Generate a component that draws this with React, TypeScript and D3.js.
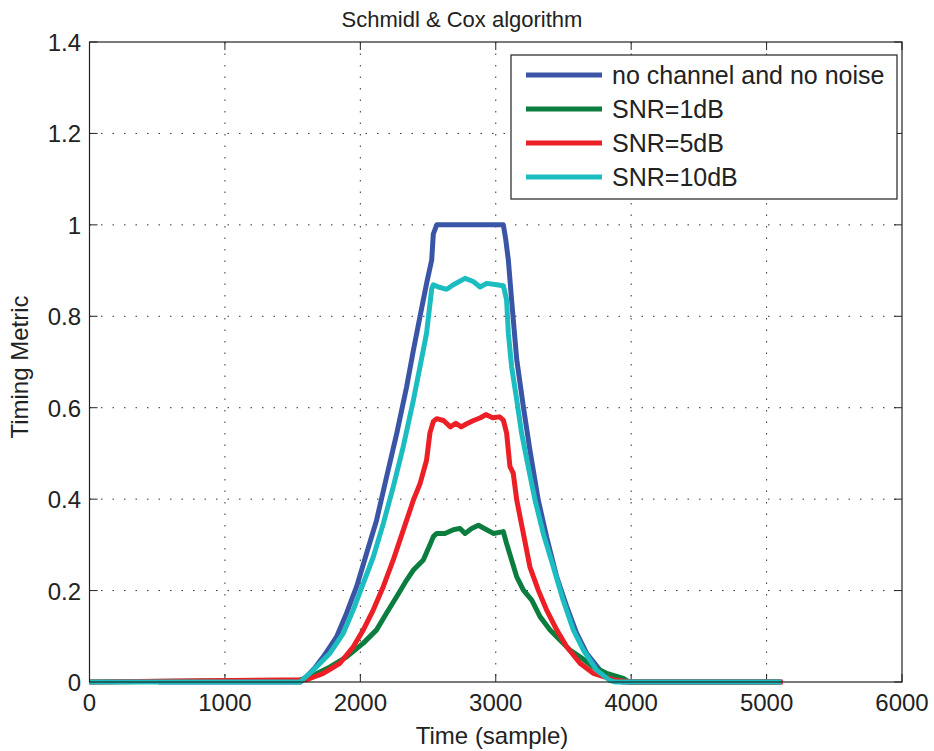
import React from "react";
import * as d3 from "d3";

const xTicks = [0, 1000, 2000, 3000, 4000, 5000, 6000];
const yTicks = [0, 0.2, 0.4, 0.6, 0.8, 1, 1.2, 1.4];

const seriesNames = ["no channel and no noise", "SNR=1dB", "SNR=5dB", "SNR=10dB"];
const seriesColors = ["#3a55a6", "#0b7d3e", "#ec1f27", "#1cbdc0"];

const noNoise: [number, number][] = [
  [508, 0], [1556, 0], [1604, 0.012], [1667, 0.032], [1726, 0.055], [1778, 0.078], [1825, 0.099],
  [1899, 0.151], [1973, 0.209], [2047, 0.282], [2120, 0.354], [2194, 0.449], [2269, 0.544],
  [2342, 0.646], [2392, 0.726], [2441, 0.8], [2490, 0.873], [2527, 0.923], [2539, 0.98],
  [2564, 1.0], [3056, 1.0], [3073, 0.97], [3093, 0.923], [3117, 0.836], [3155, 0.705],
  [3204, 0.602], [3252, 0.508], [3314, 0.398], [3375, 0.318], [3450, 0.23], [3524, 0.165],
  [3597, 0.107], [3671, 0.063], [3769, 0.026], [3893, 0.004], [3935, 0], [5110, 0],
];

const snr1: [number, number][] = [
  [0, 0], [1554, 0.004], [1653, 0.015], [1776, 0.033], [1899, 0.055], [2022, 0.085], [2120, 0.114],
  [2194, 0.151], [2269, 0.187], [2342, 0.223], [2392, 0.245], [2465, 0.267], [2514, 0.3],
  [2539, 0.318], [2564, 0.325], [2624, 0.325], [2687, 0.333], [2736, 0.336], [2773, 0.325],
  [2822, 0.336], [2872, 0.343], [2933, 0.333], [2982, 0.325], [3056, 0.329], [3080, 0.303],
  [3117, 0.267], [3155, 0.23], [3204, 0.201], [3266, 0.179], [3327, 0.143], [3401, 0.114],
  [3474, 0.092], [3548, 0.07], [3622, 0.055], [3720, 0.033], [3819, 0.019], [3942, 0.008],
  [3985, 0], [5100, 0],
];

const snr5: [number, number][] = [
  [0, 0], [1603, 0.005], [1726, 0.019], [1849, 0.041], [1948, 0.077], [2022, 0.114], [2096, 0.158],
  [2170, 0.209], [2243, 0.267], [2293, 0.311], [2342, 0.354], [2392, 0.398], [2441, 0.434],
  [2489, 0.485], [2514, 0.545], [2539, 0.57], [2564, 0.576], [2614, 0.572], [2665, 0.558],
  [2705, 0.566], [2745, 0.558], [2786, 0.565], [2836, 0.572], [2887, 0.578], [2927, 0.585],
  [2977, 0.578], [3028, 0.58], [3056, 0.573], [3080, 0.545], [3105, 0.471], [3129, 0.457],
  [3155, 0.398], [3204, 0.325], [3252, 0.252], [3314, 0.201], [3375, 0.158], [3450, 0.114],
  [3524, 0.077], [3622, 0.041], [3720, 0.019], [3868, 0.005], [3985, 0], [5120, 0],
];

const snr10: [number, number][] = [
  [0, 0], [1554, 0], [1653, 0.026], [1776, 0.063], [1875, 0.107], [1948, 0.158], [2022, 0.216],
  [2096, 0.274], [2170, 0.347], [2243, 0.427], [2317, 0.515], [2392, 0.617], [2441, 0.69],
  [2489, 0.763], [2527, 0.86], [2539, 0.869], [2576, 0.864], [2638, 0.859], [2687, 0.869],
  [2773, 0.883], [2834, 0.876], [2884, 0.864], [2933, 0.872], [3007, 0.869], [3056, 0.867],
  [3080, 0.836], [3093, 0.763], [3117, 0.69], [3155, 0.617], [3191, 0.544], [3240, 0.471],
  [3290, 0.398], [3351, 0.325], [3425, 0.252], [3498, 0.179], [3573, 0.114], [3647, 0.07],
  [3745, 0.026], [3844, 0.003], [3885, 0], [5110, 0],
];

const allSeries = [noNoise, snr1, snr5, snr10];

const W = 934;
const H = 751;
const left = 89.5;
const right = 902;
const top = 42;
const bottom = 682;
const FONT = "'Liberation Sans', Arial, Helvetica, sans-serif";

export default function App() {
  const x = d3.scaleLinear().domain([0, 6000]).range([left, right]);
  const y = d3.scaleLinear().domain([0, 1.4]).range([bottom, top]);
  const line = d3
    .line<[number, number]>()
    .x((d) => x(d[0]))
    .y((d) => y(d[1]));
  const tickLen = 8;
  const legX = 511;
  const legY = 55;
  const legW = 386;
  const legH = 144;
  const rowGap = 34;

  return (
    <svg
      width={W}
      height={H}
      style={{ position: "absolute", left: 0, top: 0, background: "#fff" }}
      fontFamily={FONT}
    >
      <rect x={0} y={0} width={W} height={H} fill="#fff" />
      {xTicks.slice(1, -1).map((t) => (
        <line
          key={"gx" + t}
          x1={x(t)}
          x2={x(t)}
          y1={top}
          y2={bottom}
          stroke="#333"
          strokeWidth={1}
          strokeDasharray="1.5,10"
        />
      ))}
      {yTicks.slice(1, -1).map((t) => (
        <line
          key={"gy" + t}
          x1={left}
          x2={right}
          y1={y(t)}
          y2={y(t)}
          stroke="#333"
          strokeWidth={1}
          strokeDasharray="1.5,10"
        />
      ))}
      {xTicks.map((t) => (
        <g key={"tx" + t}>
          <line x1={x(t)} x2={x(t)} y1={bottom} y2={bottom - tickLen} stroke="#222" />
          <line x1={x(t)} x2={x(t)} y1={top} y2={top + tickLen} stroke="#222" />
          <text x={x(t)} y={711} fontSize={24} textAnchor="middle" fill="#222">
            {t}
          </text>
        </g>
      ))}
      {yTicks.map((t) => (
        <g key={"ty" + t}>
          <line x1={left} x2={left + tickLen} y1={y(t)} y2={y(t)} stroke="#222" />
          <line x1={right} x2={right - tickLen} y1={y(t)} y2={y(t)} stroke="#222" />
          <text x={81} y={y(t) + 9} fontSize={24} textAnchor="end" fill="#222">
            {String(t)}
          </text>
        </g>
      ))}
      {allSeries.map((s, i) => (
        <path
          key={"s" + i}
          d={line(s) || ""}
          fill="none"
          stroke={seriesColors[i]}
          strokeWidth={5}
          strokeLinejoin="round"
          strokeLinecap="butt"
        />
      ))}
      <rect
        x={left}
        y={top}
        width={right - left}
        height={bottom - top}
        fill="none"
        stroke="#222"
        strokeWidth={1.2}
      />
      <rect x={legX} y={legY} width={legW} height={legH} fill="#fff" stroke="#222" strokeWidth={1.2} />
      {seriesNames.map((n, i) => (
        <g key={"l" + i}>
          <line
            x1={526}
            x2={602}
            y1={legY + 20 + i * rowGap}
            y2={legY + 20 + i * rowGap}
            stroke={seriesColors[i]}
            strokeWidth={5}
          />
          <text x={612} y={legY + 20 + i * rowGap + 9} fontSize={25} fill="#222">
            {n}
          </text>
        </g>
      ))}
      <text x={462} y={27} fontSize={22} textAnchor="middle" fill="#222">
        Schmidl &amp; Cox algorithm
      </text>
      <text x={492} y={744} fontSize={24} textAnchor="middle" fill="#222">
        Time (sample)
      </text>
      <text
        transform={`translate(28, 367) rotate(-90)`}
        fontSize={24}
        textAnchor="middle"
        fill="#222"
      >
        Timing Metric
      </text>
    </svg>
  );
}
